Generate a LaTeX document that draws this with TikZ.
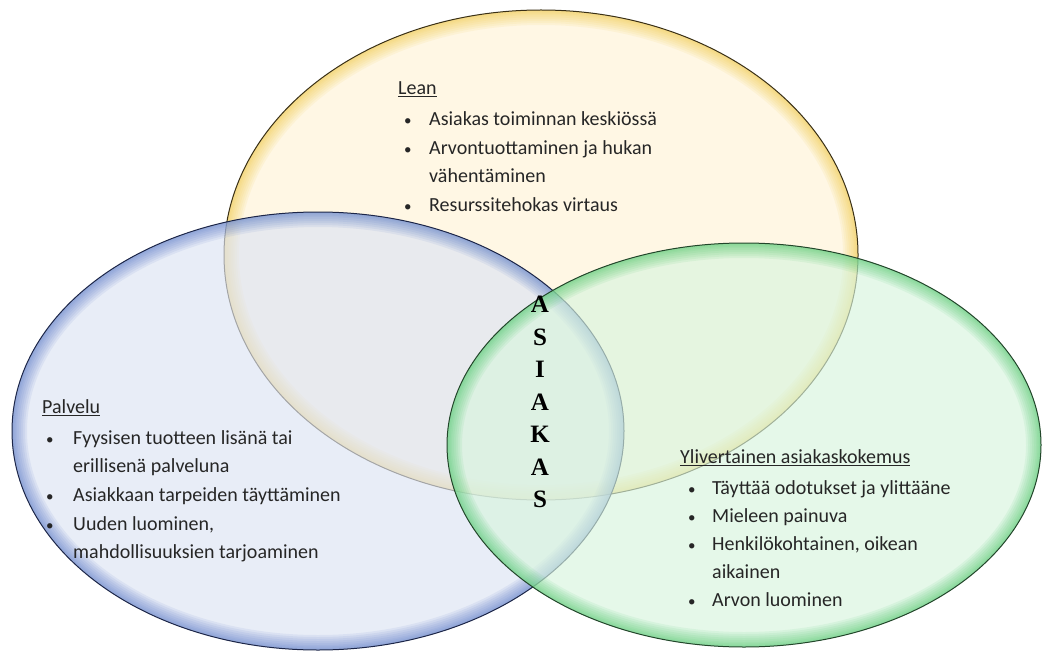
\documentclass[tikz,border=0pt]{standalone}
\usepackage{fontspec}
\usepackage{xcolor}
\usepackage{tikz}
\usetikzlibrary{positioning}
\setmainfont{Carlito}
\newfontfamily\letterfont{Liberation Serif}
\definecolor{leanfill}{HTML}{FFF3D6}
\definecolor{leanglow}{HTML}{F0C63C}
\definecolor{leanline}{HTML}{3A3016}
\definecolor{servfill}{HTML}{DDE4F4}
\definecolor{servglow}{HTML}{4F72C4}
\definecolor{servline}{HTML}{1C2648}
\definecolor{expfill}{HTML}{D8F5DE}
\definecolor{expglow}{HTML}{46C564}
\definecolor{expline}{HTML}{22462A}
\definecolor{textgray}{HTML}{262626}
\newcommand{\venncircle}[6]{%
  \begin{scope}
    \clip #1 ellipse (#2 and #3);
    \fill[#4,opacity=.65] #1 ellipse (#2 and #3);
    \foreach \w in {30,26,22,18,14,10,7,4}
      \draw[#5,line width=\w pt,opacity=.09] #1 ellipse (#2 and #3);
  \end{scope}
  \draw[#6,line width=1pt] #1 ellipse (#2 and #3);}
\newcommand{\venntitle}[1]{\multicolumn{2}{@{}l@{}}{\underline{#1}}\\[3pt]}
\newcommand{\dotitem}{{\fontsize{15}{15}\selectfont•}}
\begin{document}
\begin{tikzpicture}[x=1pt,y=-1pt,
  blocktext/.style={anchor=north west,inner sep=0pt,text=textgray,
    font=\fontsize{20}{28}\selectfont,align=left},
  keyword/.style={inner sep=0pt,align=center,
    font=\letterfont\bfseries\fontsize{25}{32.5}\selectfont}]
  \useasboundingbox (0,0) rectangle (1043,655);
  \fill[white] (0,0) rectangle (1043,655);
  \venncircle{(541,255)}{317pt}{245pt}{leanfill}{leanglow}{leanline}
  \venncircle{(318,431)}{306pt}{219pt}{servfill}{servglow}{servline}
  \venncircle{(744,445)}{297pt}{202pt}{expfill}{expglow}{expline}
  \node[blocktext] (lean) at (398,75) {%
    \begin{tabular}{@{\hspace{6pt}}p{25pt}@{}l@{}}
      \venntitle{Lean}
      \dotitem & Asiakas toiminnan keskiössä\\[1pt]
      \dotitem & Arvontuottaminen ja hukan\\
               & vähentäminen\\[1pt]
      \dotitem & Resurssitehokas virtaus
    \end{tabular}};
  \node[blocktext] (palvelu) at (42,394) {%
    \begin{tabular}{@{\hspace{4pt}}p{27pt}@{}l@{}}
      \venntitle{Palvelu}
      \dotitem & Fyysisen tuotteen lisänä tai\\
               & erillisenä palveluna\\[1pt]
      \dotitem & Asiakkaan tarpeiden täyttäminen\\[1pt]
      \dotitem & Uuden luominen,\\
               & mahdollisuuksien tarjoaminen
    \end{tabular}};
  \node[blocktext] (kokemus) at (680,444) {%
    \begin{tabular}{@{\hspace{8pt}}p{24pt}@{}l@{}}
      \venntitle{Ylivertainen asiakaskokemus}
      \dotitem & Täyttää odotukset ja ylittääne\\
      \dotitem & Mieleen painuva\\
      \dotitem & Henkilökohtainen, oikean\\
               & aikainen\\
      \dotitem & Arvon luominen
    \end{tabular}};
  \node[keyword] (asiakas) at (540,402) {A\\S\\I\\A\\K\\A\\S};
\end{tikzpicture}
\end{document}
